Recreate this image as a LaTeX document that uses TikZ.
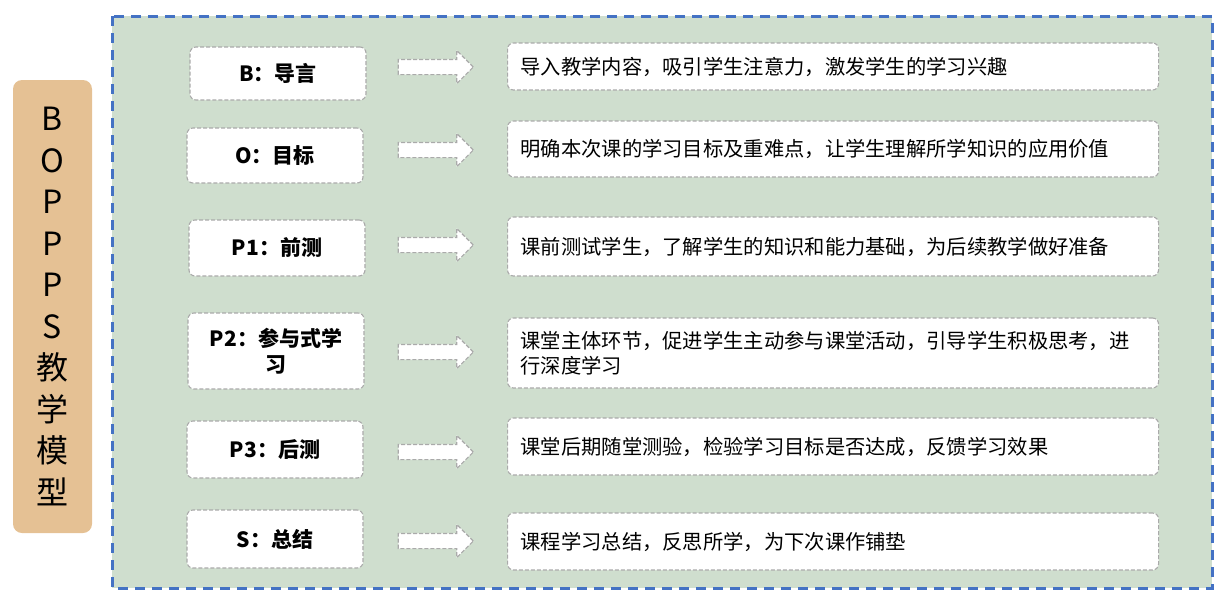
\documentclass[tikz,border=0pt]{standalone}
\usepackage{fontspec}
\setmainfont{Noto Sans CJK SC}
\usepackage{tikz}
\usetikzlibrary{arrows,shapes.arrows,positioning}

\definecolor{framecol}{RGB}{68,114,196}
\definecolor{panel}{RGB}{207,222,206}
\definecolor{tan}{RGB}{229,193,148}
\definecolor{edgegray}{RGB}{170,170,170}

\begin{document}
\begin{tikzpicture}[x=1pt,y=-1pt,semithick]
  \tikzstyle{stage}=[draw=edgegray,fill=white,rounded corners=6pt,
                     dash pattern=on 4pt off 2pt,line width=1.1pt,
                     minimum width=176pt,align=center,
                     font=\fontsize{21}{26}\selectfont\bfseries]
  \tikzstyle{note}=[draw=edgegray,fill=white,rounded corners=6pt,
                    dash pattern=on 4pt off 2pt,line width=1.1pt,
                    anchor=west,text width=625pt,inner xsep=13pt,align=left,
                    font=\fontsize{20.3}{25}\selectfont]
  \tikzstyle{go}=[single arrow,draw=edgegray,fill=white,
                  dash pattern=on 4pt off 2pt,line width=1.1pt,
                  inner sep=0pt,text height=14pt,
                  minimum height=75pt,minimum width=32pt,
                  single arrow head extend=9pt,single arrow head indent=0pt]

  \useasboundingbox (0,0) rectangle (1224,603);
  \draw[framecol,fill=panel,line width=3pt,dash pattern=on 10pt off 7pt]
    (112,16) rectangle (1212,588);

  \node[fill=tan,rounded corners=9pt,minimum width=79pt,minimum height=453pt,
        align=center,font=\fontsize{32}{41.5}\selectfont]
    (title) at (52.5,306.5) {B\\O\\P\\P\\P\\S\\教\\学\\模\\型};

  \node[stage,minimum height=53pt] (l1) at (278,73.5)  {B：导言};
  \node[stage,minimum height=55pt] (l2) at (275,155.5) {O：目标};
  \node[stage,minimum height=56pt] (l3) at (277,248)   {P1：前测};
  \node[stage,minimum height=76pt] (l4) at (276,351)   {P2：参与式学\\习};
  \node[stage,minimum height=57pt] (l5) at (275,449.5) {P3：后测};
  \node[stage,minimum height=58pt] (l6) at (275,539)   {S：总结};

  \node[go] (a1) at (432,67)  {};
  \node[go] (a2) at (432,150) {};
  \node[go] (a3) at (432,245) {};
  \node[go] (a4) at (432,352) {};
  \node[go] (a5) at (432,452) {};
  \node[go] (a6) at (432,541) {};

  \node[note,minimum height=47pt] (r1) at (507,66.5)  {导入教学内容，吸引学生注意力，激发学生的学习兴趣};
  \node[note,minimum height=56pt] (r2) at (507,149)   {明确本次课的学习目标及重难点，让学生理解所学知识的应用价值};
  \node[note,minimum height=59pt] (r3) at (507,246.5) {课前测试学生，了解学生的知识和能力基础，为后续教学做好准备};
  \node[note,minimum height=70pt] (r4) at (507,353)   {课堂主体环节，促进学生主动参与课堂活动，引导学生积极思考，进\\行深度学习};
  \node[note,minimum height=57pt] (r5) at (507,446.5) {课堂后期随堂测验，检验学习目标是否达成，反馈学习效果};
  \node[note,minimum height=57pt] (r6) at (507,541.5) {课程学习总结，反思所学，为下次课作铺垫};

\end{tikzpicture}
\end{document}
